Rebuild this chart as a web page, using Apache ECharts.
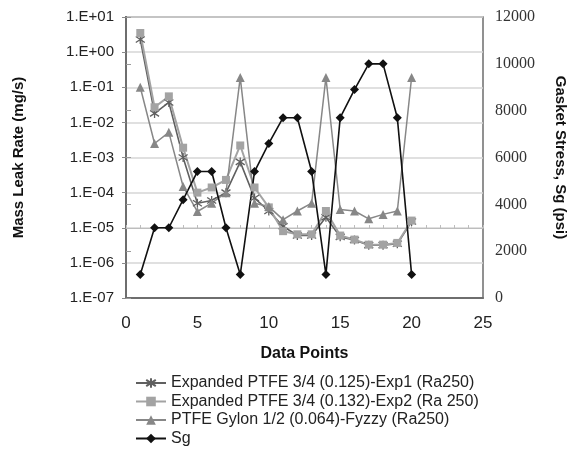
<!DOCTYPE html>
<html>
<head>
<meta charset="utf-8">
<script src="https://cdn.jsdelivr.net/npm/echarts@6/dist/echarts.min.js"></script>
<style>
  html, body { margin: 0; padding: 0; background: #fff; }
  #main { width: 568px; height: 460px; }
</style>
</head>
<body>
<div id="main"></div>
<script>
// data points 1..20
var points = [1,2,3,4,5,6,7,8,9,10,11,12,13,14,15,16,17,18,19,20];
var exp1 = [2.3, 0.018, 0.037, 0.001, 5e-5, 6e-5, 1e-4, 7.5e-4, 7e-5, 3e-5,
            1.1e-5, 6e-6, 6e-6, 2e-5, 5.5e-6, 4.5e-6, 3.2e-6, 3.2e-6, 3.5e-6, 1.5e-5];
var exp2 = [3.5, 0.027, 0.055, 0.0019, 1e-4, 1.4e-4, 2.3e-4, 2.2e-3, 1.4e-4, 3.8e-5,
            8e-6, 6.5e-6, 6.5e-6, 3e-5, 6e-6, 4.6e-6, 3.3e-6, 3.3e-6, 3.7e-6, 1.6e-5];
var fyzzy = [0.1, 0.0025, 0.0052, 1.5e-4, 2.9e-5, 5e-5, 1e-4, 0.19, 5e-5, 4e-5,
             1.7e-5, 3e-5, 5e-5, 0.19, 3.3e-5, 3e-5, 1.8e-5, 2.4e-5, 3e-5, 0.19];
var sg = [1000, 3000, 3000, 4200, 5400, 5400, 3000, 1000, 5400, 6600,
          7700, 7700, 5400, 1000, 7700, 8900, 10000, 10000, 7700, 1000];

function pairs(arr){
	return points.map(function(p,i){ return [p, arr[i]]; });
}
function sci(v){
	var e=Math.round(Math.log10(v));
	return '1.E'+(e<0?'-':'+')+String(Math.abs(e)).padStart(2,'0');
}

var sans='"Liberation Sans", Arial, sans-serif';
var serif='"Liberation Serif", "Times New Roman", serif';
var starPath='path://M0,-6 L0,6 M-5,-4 L5,4 M-5,4 L5,-4';

var myChart=echarts.init(document.getElementById('main'));
myChart.setOption({
	animation:false,
	backgroundColor:'#fff',
	grid:{
		left:126, right:85, top:17, bottom:162,
		outerBoundsMode:'none',
		show:true, borderColor:'#6e6e6e', borderWidth:1.5
	},
	legend:{
		orient:'vertical',
		left:130, top:370,
		itemWidth:30, itemHeight:12, itemGap:2.5,
		textStyle:{fontFamily:sans, fontSize:16, color:'#222'},
		data:['Expanded PTFE 3/4 (0.125)-Exp1 (Ra250)','Expanded PTFE 3/4 (0.132)-Exp2 (Ra 250)','PTFE Gylon 1/2 (0.064)-Fyzzy (Ra250)','Sg']
	},
	xAxis:[{
		type:'value', min:0, max:25, interval:5, position:'bottom',
		name:'Data Points', nameLocation:'middle', nameGap:48,
		nameTextStyle:{fontFamily:sans, fontSize:16, fontWeight:'bold', color:'#111'},
		axisLine:{show:true, lineStyle:{color:'#6e6e6e', width:2}},
		axisTick:{show:false},
		axisLabel:{fontFamily:sans, fontSize:17, color:'#222', margin:17},
		splitLine:{show:false}
	},{
		// faint tick line crossing at 1.E-05
		type:'value', min:0, max:25, interval:1, position:'bottom', offset:-70,
		axisLine:{show:true, lineStyle:{color:'#bdbdbd', width:1}},
		axisTick:{show:true, inside:true, length:3, lineStyle:{color:'#bdbdbd'}},
		axisLabel:{show:false},
		splitLine:{show:false}
	}],
	yAxis:[{
		type:'log', logBase:10, min:1e-7, max:10, position:'left',
		name:'Mass Leak Rate (mg/s)', nameLocation:'middle', nameGap:100, nameRotate:90,
		nameTextStyle:{fontFamily:sans, fontSize:15, fontWeight:'bold', color:'#111'},
		axisLine:{show:true, lineStyle:{color:'#6e6e6e', width:2}},
		axisTick:{show:true, length:4, lineStyle:{color:'#8a8a8a'}},
		axisLabel:{fontFamily:sans, fontSize:15, color:'#222', margin:12, formatter:sci},
		splitLine:{show:true, lineStyle:{color:'#d6d6d6', width:1.5}}
	},{
		type:'value', min:0, max:12000, interval:2000, position:'right',
		name:'Gasket Stress, Sg (psi)', nameLocation:'middle', nameGap:70, nameRotate:-90,
		nameTextStyle:{fontFamily:sans, fontSize:15, fontWeight:'bold', color:'#111'},
		axisLine:{show:true, lineStyle:{color:'#6e6e6e', width:2}},
		axisTick:{show:true, length:5, lineStyle:{color:'#9a9a9a'}},
		axisLabel:{fontFamily:serif, fontSize:16, color:'#333', margin:12,
			formatter:function(v){ return String(v); }},
		splitLine:{show:false}
	}],
	series:[{
		name:'Expanded PTFE 3/4 (0.125)-Exp1 (Ra250)',
		type:'line', xAxisIndex:0, yAxisIndex:0,
		data:pairs(exp1),
		symbol:starPath, symbolSize:9,
		lineStyle:{color:'#606060', width:1.6},
		itemStyle:{color:'#606060', borderColor:'#606060', borderWidth:1.3}
	},{
		name:'Expanded PTFE 3/4 (0.132)-Exp2 (Ra 250)',
		type:'line', xAxisIndex:0, yAxisIndex:0,
		data:pairs(exp2),
		symbol:'rect', symbolSize:8,
		lineStyle:{color:'#a3a3a3', width:2},
		itemStyle:{color:'#a3a3a3'}
	},{
		name:'PTFE Gylon 1/2 (0.064)-Fyzzy (Ra250)',
		type:'line', xAxisIndex:0, yAxisIndex:0,
		data:pairs(fyzzy),
		symbol:'triangle', symbolSize:9,
		lineStyle:{color:'#878787', width:1.5},
		itemStyle:{color:'#878787'}
	},{
		name:'Sg',
		type:'line', xAxisIndex:0, yAxisIndex:1,
		data:pairs(sg),
		symbol:'diamond', symbolSize:9,
		lineStyle:{color:'#111', width:1.6},
		itemStyle:{color:'#111'}
	}]
});
</script>
</body>
</html>
